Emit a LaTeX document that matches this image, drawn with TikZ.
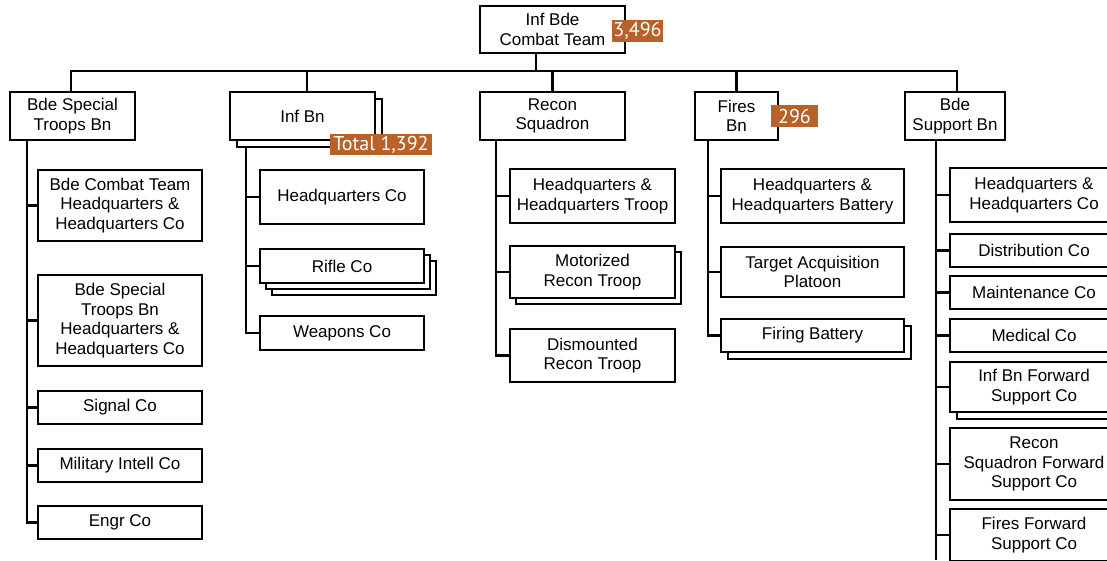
\documentclass[tikz,border=0pt]{standalone}
\usepackage{fontspec}
\setmainfont{Liberation Sans}
\newfontfamily\badgefont{PT Sans}
\usetikzlibrary{shadows}
\definecolor{badge}{RGB}{184,98,42}
\tikzset{
  box/.style={draw=black, line width=2.1pt, fill=white, align=center, inner sep=0pt,
    font=\fontsize{17}{19.5}\selectfont},
  conn/.style={line width=2.1pt, line join=miter},
  badgebox/.style={fill=badge, text=white, inner sep=0pt, font=\badgefont\fontsize{20}{22}\selectfont},
  stacked/.style={copy shadow={shadow xshift=#1, shadow yshift=-#1}},
  stackedtwo/.style={double copy shadow={shadow xshift=6pt, shadow yshift=-6pt}},
}
\begin{document}
\begin{tikzpicture}[x=1pt,y=-1pt]
\path[use as bounding box, clip] (0,0) rectangle (1107,560);
\coordinate (busy) at (0,71);

% top
\node[box, minimum width=145pt, minimum height=47pt] (top) at (552.5,29.5) {Inf Bde\\Combat Team};

% level 1
\node[box, minimum width=125pt, minimum height=48pt] (bstb) at (72.5,116) {Bde Special\\Troops Bn};
\node[box, stacked=7pt, minimum width=145pt, minimum height=48pt] (infbn) at (302.5,116) {Inf Bn};
\node[box, minimum width=145pt, minimum height=48pt] (recon) at (552.5,116) {Recon\\Squadron};
\node[box, minimum width=83pt, minimum height=48pt] (fires) at (736.5,116) {Fires\\Bn};
\node[box, minimum width=100pt, minimum height=48pt] (bsb) at (955,116) {Bde\\Support Bn};

% Bde Special Troops Bn children
\node[box, minimum width=164pt, minimum height=71pt] (s1) at (120,205.5) {Bde Combat Team\\Headquarters \&\\Headquarters Co};
\node[box, minimum width=164pt, minimum height=91pt] (s2) at (120,320.5) {Bde Special\\Troops Bn\\Headquarters \&\\Headquarters Co};
\node[box, minimum width=164pt, minimum height=33pt] (s3) at (120,407.5) {Signal Co};
\node[box, minimum width=164pt, minimum height=33pt] (s4) at (120,465.5) {Military Intell Co};
\node[box, minimum width=164pt, minimum height=33pt] (s5) at (120,522.5) {Engr Co};

% Inf Bn children
\node[box, minimum width=164pt, minimum height=54pt] (i1) at (342,197) {Headquarters Co};
\node[box, stackedtwo, minimum width=164pt, minimum height=34pt] (i2) at (342,266) {Rifle Co};
\node[box, minimum width=164pt, minimum height=34pt] (i3) at (342,333) {Weapons Co};

% Recon children
\node[box, minimum width=165pt, minimum height=54pt] (r1) at (592.5,196) {Headquarters \&\\Headquarters Troop};
\node[box, stacked=6pt, minimum width=165pt, minimum height=52pt] (r2) at (592.5,272) {Motorized\\Recon Troop};
\node[box, minimum width=165pt, minimum height=53pt] (r3) at (592.5,355.5) {Dismounted\\Recon Troop};

% Fires children
\node[box, minimum width=183pt, minimum height=54pt] (f1) at (812.5,196) {Headquarters \&\\Headquarters Battery};
\node[box, minimum width=183pt, minimum height=50pt] (f2) at (812.5,272) {Target Acquisition\\Platoon};
\node[box, stacked=7pt, minimum width=183pt, minimum height=33pt] (f3) at (812.5,335.5) {Firing Battery};

% Support children
\node[box, minimum width=168pt, minimum height=54pt] (b1) at (1034,195) {Headquarters \&\\Headquarters Co};
\node[box, minimum width=168pt, minimum height=33pt] (b2) at (1034,250.5) {Distribution Co};
\node[box, minimum width=168pt, minimum height=33pt] (b3) at (1034,292.5) {Maintenance Co};
\node[box, minimum width=168pt, minimum height=33pt] (b4) at (1034,335.5) {Medical Co};
\node[box, stacked=7pt, minimum width=168pt, minimum height=50pt] (b5) at (1034,387) {Inf Bn Forward\\Support Co};
\node[box, minimum width=168pt, minimum height=72pt] (b6) at (1034,464) {Recon\\Squadron Forward\\Support Co};
\node[box, minimum width=168pt, minimum height=52pt] (b7) at (1034,535) {Fires Forward\\Support Co};

% connectors, top level
\draw[conn] ([xshift=-16.5pt]top.south) -- ([xshift=-16.5pt]top.south |- busy);
\draw[conn] ([xshift=-1.5pt]bstb.north) -- ([xshift=-1.5pt]bstb.north |- busy) -| ([xshift=2pt]bsb.north);
\draw[conn] ([xshift=4.5pt]infbn.north) -- ([xshift=4.5pt]infbn.north |- busy);
\draw[conn] (recon.north) -- (recon.north |- busy);
\draw[conn] (fires.north) -- (fires.north |- busy);

% trunks
\coordinate (ts) at (27,140);
\coordinate (ti) at (246,148);
\coordinate (tr) at (496,140);
\coordinate (tf) at (708,140);
\coordinate (tb) at (936,140);
\coordinate (tbend) at (936,560);
\foreach \c in {s1,s2,s3,s4,s5} \draw[conn] (ts) |- (\c.west);
\foreach \c in {i1,i2,i3} \draw[conn] (ti) |- (\c.west);
\foreach \c in {r1,r2,r3} \draw[conn] (tr) |- (\c.west);
\foreach \c in {f1,f2,f3} \draw[conn] (tf) |- (\c.west);
\foreach \c in {b1,b2,b3,b4,b5,b6,b7} \draw[conn] (tb) |- (\c.west);
\draw[conn] (tb) -- (tbend);

% badges
\node[badgebox, minimum width=51pt, minimum height=22pt] (n1) at (637.5,31) {3,496};
\node[badgebox, minimum width=102pt, minimum height=21pt] (n2) at (381,144.5) {Total 1,392};
\node[badgebox, minimum width=47pt, minimum height=22pt] (n3) at (794.5,116) {296};
\end{tikzpicture}
\end{document}
